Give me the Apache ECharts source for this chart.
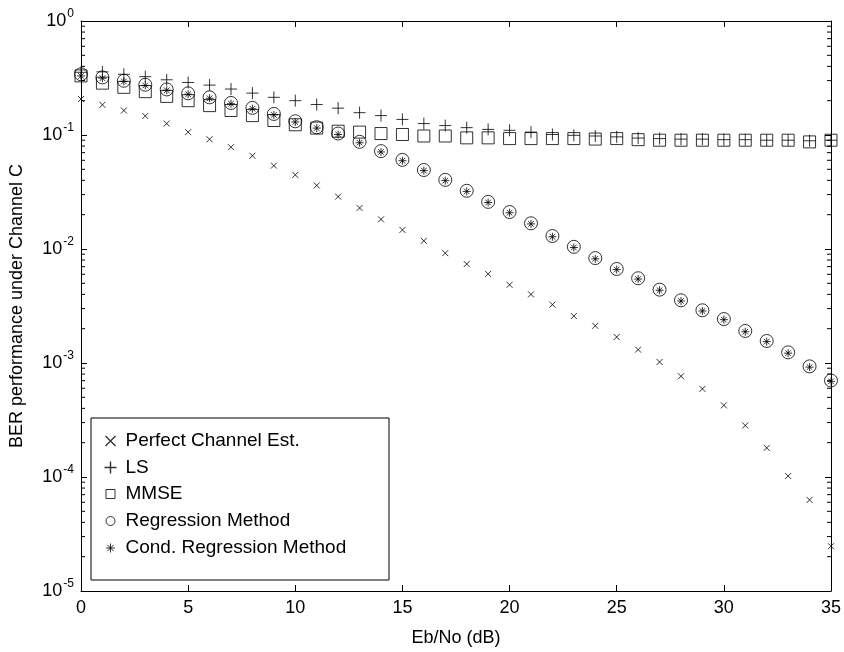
<!DOCTYPE html>
<html>
<head>
<meta charset="utf-8">
<script src="https://cdn.jsdelivr.net/npm/echarts@6/dist/echarts.min.js"></script>
<style>html,body{margin:0;padding:0;background:#fff;}#c{width:844px;height:652px;}</style>
</head>
<body>
<div id="c"></div>
<script>
const ebno = [0,1,2,3,4,5,6,7,8,9,10,11,12,13,14,15,16,17,18,19,20,21,22,23,24,25,26,27,28,29,30,31,32,33,34,35];
const perfect = [0.207,0.184,0.164,0.147,0.126,0.106,0.0918,0.0782,0.0658,0.0539,0.0447,0.0361,0.0288,0.0229,0.0182,0.0147,0.0118,0.0092,0.00738,0.00604,0.00485,0.0040,0.00325,0.00258,0.00212,0.00169,0.00131,0.00102,0.000765,0.000593,0.000425,0.000283,0.000180,0.000102,0.000063,0.0000247];
const ls = [0.355,0.358,0.341,0.325,0.305,0.289,0.274,0.253,0.233,0.214,0.200,0.185,0.172,0.157,0.148,0.137,0.126,0.121,0.116,0.112,0.110,0.106,0.101,0.0994,0.098,0.0963,0.094,0.093,0.092,0.092,0.091,0.091,0.090,0.090,0.089,0.090];
const mmse = [0.33,0.285,0.262,0.240,0.218,0.200,0.181,0.164,0.148,0.134,0.123,0.115,0.108,0.106,0.103,0.101,0.098,0.098,0.0944,0.0944,0.093,0.093,0.093,0.093,0.0921,0.093,0.091,0.090,0.090,0.090,0.090,0.090,0.090,0.090,0.087,0.090];
const regression = [0.341,0.32,0.299,0.276,0.251,0.232,0.214,0.191,0.173,0.153,0.132,0.117,0.103,0.0871,0.0722,0.0605,0.0493,0.0404,0.0324,0.0259,0.0211,0.0168,0.0130,0.01045,0.00832,0.00668,0.00554,0.0044,0.00355,0.0029,0.00243,0.00191,0.00156,0.00124,0.000934,0.000702];
const condRegression = [0.33,0.315,0.295,0.272,0.247,0.228,0.21,0.188,0.17,0.15,0.13,0.115,0.101,0.0855,0.071,0.0595,0.0487,0.0398,0.032,0.0256,0.0208,0.0166,0.0128,0.0103,0.0082,0.0066,0.00545,0.00435,0.0035,0.00286,0.0024,0.00188,0.00154,0.00122,0.00092,0.00069];
const seriesNames = ['Perfect Channel Est.','LS','MMSE','Regression Method','Cond. Regression Method'];
const minorTickVals = [];
[-5,-4,-3,-2,-1].forEach(k => { [2,3,4,5,6,7,8,9].forEach(m => minorTickVals.push(+(m*Math.pow(10,k)).toPrecision(3))); });

const FONT = '"Liberation Sans", Arial, Helvetica, sans-serif';
const chart = echarts.init(document.getElementById('c'), null, {renderer:'canvas'});
const pair = arr => ebno.map((x,i)=>[x,arr[i]]);
const hollow = {color:'none', borderColor:'#000', borderWidth:1};
const PATH_X = 'path://M0,0L10,10M10,0L0,10';
const PATH_PLUS = 'path://M0,5L10,5M5,0L5,10';
const PATH_STAR = 'path://M0,5L10,5M5,0L5,10M1.5,1.5L8.5,8.5M8.5,1.5L1.5,8.5';

const yLabel = {
  fontFamily: FONT, fontSize: 18, color:'#000', margin: 7,
  formatter: v => '{b|10}{s|' + Math.round(Math.log10(v)) + '}',
  rich: { b:{fontFamily:FONT, fontSize:18, color:'#000'}, s:{fontFamily:FONT, fontSize:12, color:'#000', padding:[0,0,14,1]} }
};

const legendRowsY = [441, 467.5, 494, 521, 548];
const legendIconSize = [10, 12, 9, 9, 9];
const legendIconWidth = [1.4, 1.4, 1, 1, 1];
const legends = seriesNames.map((n, i) => {
  const s = legendIconSize[i];
  const left = 108 - s/2;
  return {
    z:5, orient:'vertical', left:left, top:legendRowsY[i]-10, itemWidth:s, itemHeight:s,
    data:[n], selectedMode:false, padding:0,
    itemStyle:{borderWidth:legendIconWidth[i]},
    textStyle:{fontFamily:FONT, fontSize:19, color:'#000', lineHeight:20, padding:[0,0,0, 123 - (left + s + 5)]}
  };
});

const option = {
  animation:false,
  backgroundColor:'#fff',
  grid:{left:74, right:10, top:21, bottom:55, containLabel:false},
  xAxis:[
    {type:'value', min:0, max:35, interval:5, position:'bottom',
     name:'Eb/No (dB)', nameLocation:'middle', nameGap:38,
     nameTextStyle:{fontFamily:FONT, fontSize:18, color:'#000'},
     axisLine:{onZero:false, lineStyle:{color:'#000', width:1}},
     axisTick:{inside:true, length:6, lineStyle:{color:'#000'}},
     axisLabel:{fontFamily:FONT, fontSize:18, color:'#000', margin:8},
     splitLine:{show:false}},
    {type:'value', min:0, max:35, interval:5, position:'top',
     axisLine:{onZero:false, lineStyle:{color:'#000', width:1}},
     axisTick:{inside:true, length:6, lineStyle:{color:'#000'}},
     axisLabel:{show:false}, splitLine:{show:false}}
  ],
  yAxis:[
    {type:'log', logBase:10, min:1e-5, max:1, position:'left',
     name:'BER performance under Channel C', nameLocation:'middle', nameGap:55,
     nameTextStyle:{fontFamily:FONT, fontSize:18, color:'#000'},
     axisLine:{onZero:false, lineStyle:{color:'#000', width:1}},
     axisTick:{inside:true, length:6, lineStyle:{color:'#000'}},
     axisLabel:yLabel, splitLine:{show:false}, minorTick:{show:false}},
    {type:'log', logBase:10, min:1e-5, max:1, position:'right',
     axisLine:{onZero:false, lineStyle:{color:'#000', width:1}},
     axisTick:{inside:true, length:6, lineStyle:{color:'#000'}},
     axisLabel:{show:false}, splitLine:{show:false}}
  ],
  graphic:[{type:'rect', z:3, shape:{x:91, y:418, width:298, height:162}, style:{fill:'#fff', stroke:'#000', lineWidth:1}}],
  legend:legends,
  series:[
    {name:seriesNames[0], type:'scatter', data:pair(perfect), symbol:PATH_X, symbolSize:6, itemStyle:hollow, z:3},
    {name:seriesNames[1], type:'scatter', data:pair(ls), symbol:PATH_PLUS, symbolSize:12, itemStyle:hollow, z:3},
    {name:seriesNames[2], type:'scatter', data:pair(mmse), symbol:'rect', symbolSize:12, itemStyle:hollow, z:3},
    {name:seriesNames[3], type:'scatter', data:pair(regression), symbol:'circle', symbolSize:13, itemStyle:hollow, z:3},
    {name:seriesNames[4], type:'scatter', data:pair(condRegression), symbol:PATH_STAR, symbolSize:8, itemStyle:hollow, z:3},
    {type:'custom', silent:true, z:4, data:minorTickVals.map(v=>[0,v]),
     renderItem:(params, api) => {
       const v = api.value(1);
       const l = api.coord([0, v]);
       const r = api.coord([35, v]);
       return {type:'group', children:[
         {type:'line', shape:{x1:l[0], y1:l[1], x2:l[0]+4, y2:l[1]}, style:{stroke:'#000', lineWidth:1}},
         {type:'line', shape:{x1:r[0], y1:r[1], x2:r[0]-4, y2:r[1]}, style:{stroke:'#000', lineWidth:1}}
       ]};
     }}
  ]
};
chart.setOption(option);
</script>
</body>
</html>
